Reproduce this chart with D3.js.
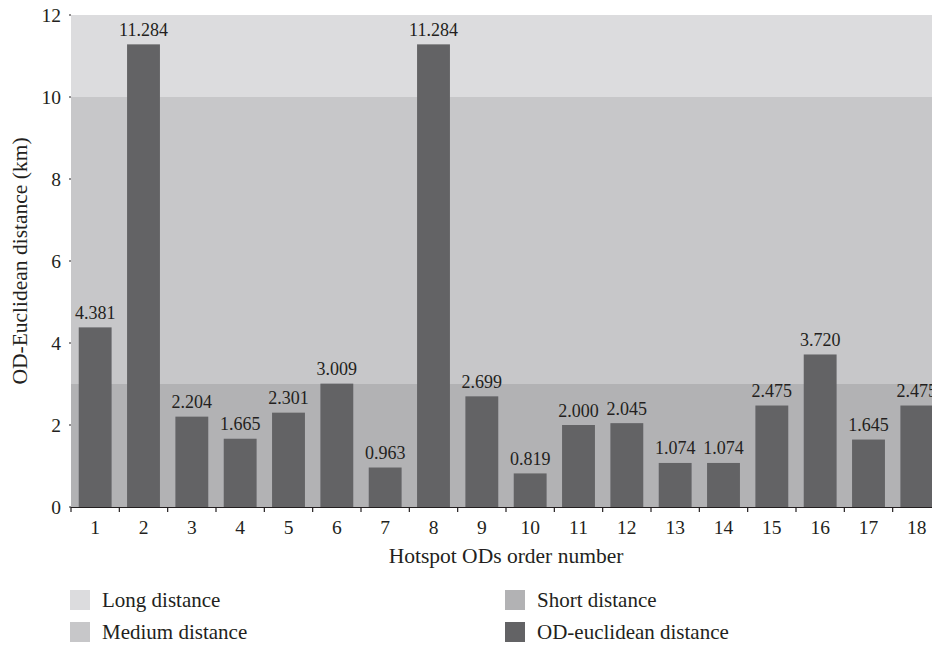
<!DOCTYPE html>
<html>
<head>
<meta charset="utf-8">
<script src="https://cdn.jsdelivr.net/npm/d3@7"></script>
<style>
  html, body { margin: 0; padding: 0; background: #fff; }
  svg { display: block; }
  text { font-family: "Liberation Serif", "DejaVu Serif", serif; fill: #231f20; }
</style>
</head>
<body>
<svg id="chart" width="932" height="648"></svg>
<script>
const categories = ["1","2","3","4","5","6","7","8","9","10","11","12","13","14","15","16","17","18"];
const values = [4.381, 11.284, 2.204, 1.665, 2.301, 3.009, 0.963, 11.284, 2.699, 0.819, 2.000, 2.045, 1.074, 1.074, 2.475, 3.720, 1.645, 2.475];
const valueLabels = ["4.381","11.284","2.204","1.665","2.301","3.009","0.963","11.284","2.699","0.819","2.000","2.045","1.074","1.074","2.475","3.720","1.645","2.475"];
const yTicks = [0, 2, 4, 6, 8, 10, 12];
const bands = [
  { name: "Short distance", from: 0, to: 3 },
  { name: "Medium distance", from: 3, to: 10 },
  { name: "Long distance", from: 10, to: 12 }
];
const legendItems = ["Long distance", "Medium distance", "Short distance", "OD-euclidean distance"];
const colors = {
  "Long distance": "#dcdcde",
  "Medium distance": "#c7c7c9",
  "Short distance": "#b2b2b4",
  "OD-euclidean distance": "#636365"
};

(function () {
const svg = d3.select("#chart");
const mLeft = 71, mRight = 941, mTop = 15, mBottom = 507;

const x = d3.scaleBand().domain(categories).range([mLeft, mRight]).paddingInner(0.32).paddingOuter(0.16);
const y = d3.scaleLinear().domain([0, 12]).range([mBottom, mTop]);

// background bands
svg.append("g").selectAll("rect").data(bands).join("rect")
  .attr("x", mLeft).attr("width", mRight - mLeft)
  .attr("y", d => y(d.to)).attr("height", d => y(d.from) - y(d.to))
  .attr("fill", d => colors[d.name]);

// bars
svg.append("g").selectAll("rect").data(values).join("rect")
  .attr("x", (d, i) => x(categories[i]))
  .attr("width", x.bandwidth())
  .attr("y", d => y(d))
  .attr("height", d => y(0) - y(d))
  .attr("fill", colors["OD-euclidean distance"]);

// value labels
svg.append("g").selectAll("text").data(values).join("text")
  .attr("x", (d, i) => x(categories[i]) + x.bandwidth() / 2)
  .attr("y", d => y(d) - 8.5)
  .attr("text-anchor", "middle")
  .attr("font-size", 18)
  .text((d, i) => valueLabels[i]);

// x axis
const xAxisG = svg.append("g").attr("transform", `translate(0,${mBottom})`);
xAxisG.append("line").attr("x1", mLeft).attr("x2", mRight).attr("y1", 0.5).attr("y2", 0.5)
  .attr("stroke", "#231f20").attr("stroke-width", 1.2);
const step = x.step();
const tickXs = d3.range(categories.length + 1).map(i => mLeft + i * step);
xAxisG.selectAll("line.tick").data(tickXs).join("line").attr("class", "tick")
  .attr("x1", d => d).attr("x2", d => d).attr("y1", 0).attr("y2", 5)
  .attr("stroke", "#231f20").attr("stroke-width", 1.2);
xAxisG.selectAll("text").data(categories).join("text")
  .attr("x", d => x(d) + x.bandwidth() / 2)
  .attr("y", 27)
  .attr("text-anchor", "middle")
  .attr("font-size", 19.5)
  .text(d => d);

// y axis
const yAxisG = svg.append("g");
yAxisG.selectAll("line").data(yTicks).join("line")
  .attr("x1", mLeft - 2).attr("x2", mLeft).attr("y1", d => y(d)).attr("y2", d => y(d))
  .attr("stroke", "#231f20").attr("stroke-width", 1);
yAxisG.selectAll("text").data(yTicks).join("text")
  .attr("x", 61).attr("y", d => y(d)).attr("dy", "0.35em")
  .attr("text-anchor", "end")
  .attr("font-size", 19.5)
  .text(d => d);

// axis titles
svg.append("text")
  .attr("x", (mLeft + mRight) / 2).attr("y", 563)
  .attr("text-anchor", "middle").attr("font-size", 21.5)
  .text("Hotspot ODs order number");
svg.append("text")
  .attr("transform", `translate(27,${(mTop + mBottom) / 2}) rotate(-90)`)
  .attr("text-anchor", "middle").attr("font-size", 21.5)
  .text("OD-Euclidean distance (km)");

// legend
const legendPos = [
  { x: 70, y: 590 }, { x: 70, y: 622 }, { x: 505, y: 590 }, { x: 505, y: 622 }
];
const lg = svg.append("g").selectAll("g").data(legendItems).join("g")
  .attr("transform", (d, i) => `translate(${legendPos[i].x},${legendPos[i].y})`);
lg.append("rect").attr("width", 20).attr("height", 20).attr("fill", d => colors[d]);
lg.append("text").attr("x", 32).attr("y", 17).attr("font-size", 21).text(d => d);
})();
</script>
</body>
</html>
